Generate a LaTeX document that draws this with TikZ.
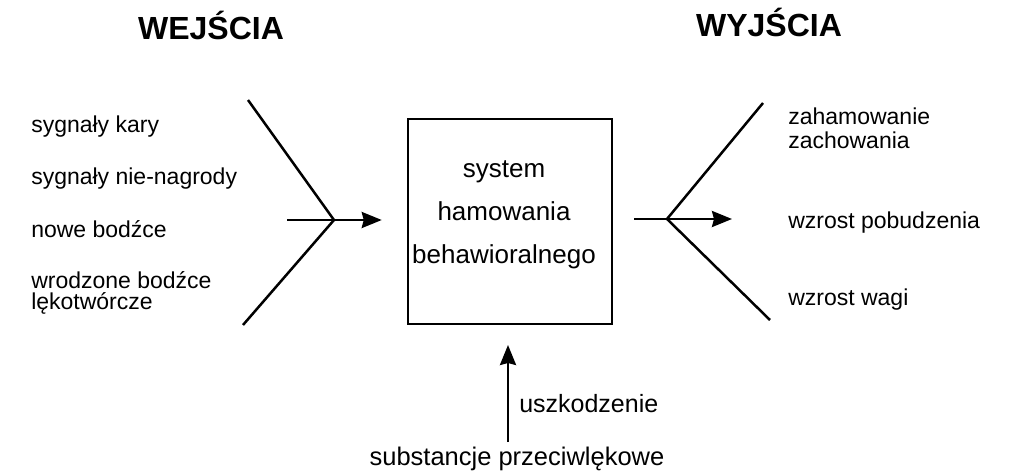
\documentclass[tikz,border=0pt]{standalone}
\usepackage{fontspec}
\setmainfont{Liberation Sans}
\usetikzlibrary{arrows.meta}

\begin{document}
\begin{tikzpicture}[
			     x=1pt, y=-1pt,
			     line width=2.5pt,
			     >={Stealth[length=20pt,width=16pt,inset=2pt]},
			     title/.style={anchor=base, inner sep=0pt, font=\fontsize{32}{36}\selectfont\bfseries},
			     lbl/.style={anchor=base west, inner sep=0pt, font=\fontsize{23}{21}\selectfont},
			     big lbl/.style={inner sep=0pt, font=\fontsize{26}{43}\selectfont},
			     normal line/.style={->}
			     ]
\useasboundingbox (0,0) rectangle (1010,476);
% titles
\node[title] (wej) at (211,40) {WEJŚCIA};
\node[title] (wyj) at (769,37) {WYJŚCIA};
% inputs
\node[lbl] (kara) at (30,133) {sygnały kary};
\node[lbl] (nagr) at (30,185) {sygnały nie-nagrody};
\node[lbl] (nowe) at (30,237) {nowe bodźce};
\node[lbl, align=left] (wrodz) at (30,309) {wrodzone bodźce\\lękotwórcze};
% system
\node[draw, minimum width=204pt, minimum height=205pt, inner sep=0pt] (bis) at (510,221.5) {};
\node[big lbl, anchor=base, align=center] (bistxt) at (504,263) {system\\hamowania\\behawioralnego};
% outputs
\node[lbl, align=left, font=\fontsize{23}{24}\selectfont] (zah) at (787,149) {zahamowanie\\zachowania};
\node[lbl] (pob) at (787,228) {wzrost pobudzenia};
\node[lbl] (waga) at (787,305) {wzrost wagi};
% bottom
\node[big lbl, anchor=base west, font=\fontsize{25}{30}\selectfont] (uszk) at (518,412) {uszkodzenie};
\node[big lbl, anchor=base, font=\fontsize{25.5}{30}\selectfont] (subst) at (517,465) {substancje przeciwlękowe};

% left fork
\coordinate (inTop) at (248,100);
\coordinate (inV) at (334,220);
\coordinate (inBot) at (243,325);
\coordinate (inStart) at (287,220);
\draw (inTop) -- (inV) -- (inBot);
\draw (inStart) -- (inV);
\path (inV) edge[normal line, shorten >=25pt] (inV -| bis.west);
% right fork
\coordinate (outV) at (667,219);
\coordinate (outTop) at (763,103);
\coordinate (outBot) at (770,320);
\coordinate (outStart) at (634,219);
\coordinate (outTip) at (732,219);
\draw (outTop) -- (outV) -- (outBot);
\draw (outStart) -- (outV);
\path (outV) edge[normal line] (outTip);
% damage
\coordinate (dmgStart) at (508,442);
\coordinate (dmgTip) at (508,345);
\path (dmgStart) edge[normal line] (dmgTip);
\end{tikzpicture}
\end{document}
